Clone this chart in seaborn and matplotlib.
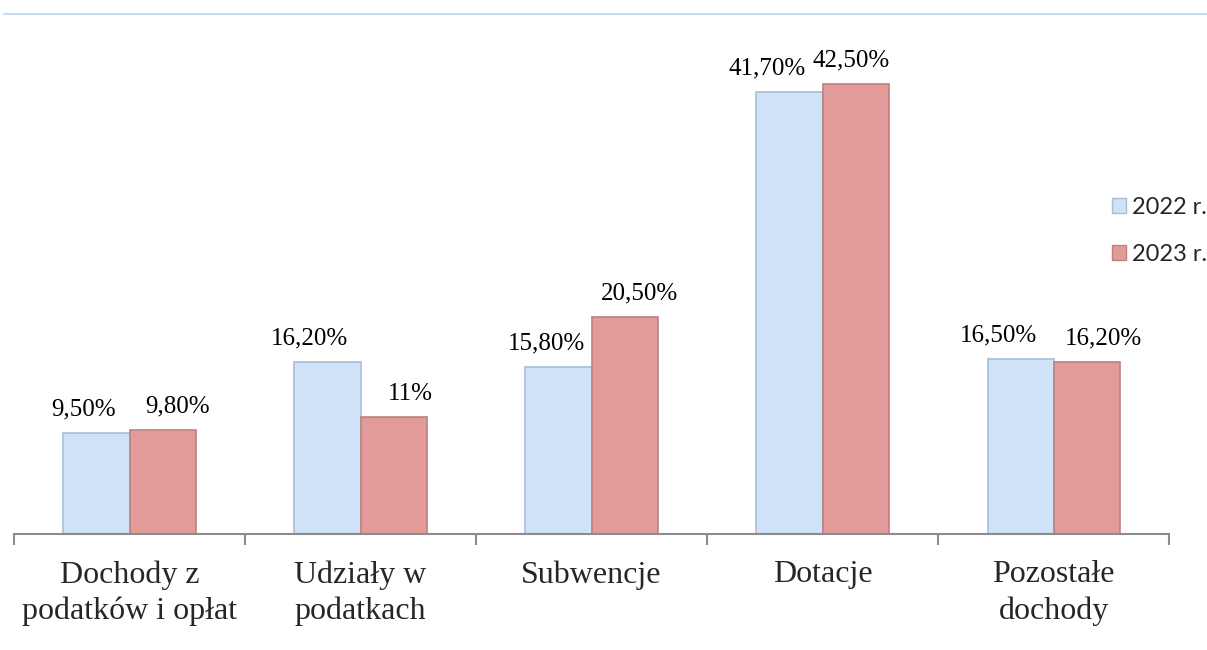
import pandas as pd
import matplotlib.pyplot as plt
from matplotlib.lines import Line2D
from matplotlib.patches import Patch
import seaborn as sns

# Data (share of revenue, %)
kategorie = ["Dochody z\npodatków i opłat", "Udziały w\npodatkach", "Subwencje",
             "Dotacje", "Pozostałe\ndochody"]
lata = ["2022 r.", "2023 r."]
udzial_2022 = [9.5, 16.2, 15.8, 41.7, 16.5]
udzial_2023 = [9.8, 11.0, 20.5, 42.5, 16.2]
etykiety_2022 = ["9,50%", "16,20%", "15,80%", "41,70%", "16,50%"]
etykiety_2023 = ["9,80%", "11%", "20,50%", "42,50%", "16,20%"]

# Horizontal nudges (points) of the value labels, as Excel placed them
nudge_2022 = [-9, -13, -9, -16, -16]
nudge_2023 = [11, 12, 11, -3, 12]

kolory = ["#cfe2f8", "#e39b9a"]
krawedzie = ["#a9bdd6", "#b98180"]

df = pd.DataFrame({
    "kategoria": kategorie * 2,
    "rok": [lata[0]] * 5 + [lata[1]] * 5,
    "udzial": udzial_2022 + udzial_2023,
})

sns.set_style("white")
plt.rcParams["font.family"] = ["Liberation Serif", "DejaVu Serif"]

fig = plt.figure(figsize=(12.07, 6.5), dpi=100)
ax = fig.add_axes([0.0116, 0.1785, 0.957, 0.7338])

sns.barplot(data=df, x="kategoria", y="udzial", hue="rok", order=kategorie,
            hue_order=lata, palette=kolory, width=0.572, saturation=1,
            dodge=True, legend=False, ax=ax)

# bar outlines and value labels
etykiety = [etykiety_2022, etykiety_2023]
nudges = [nudge_2022, nudge_2023]
for i, cont in enumerate(ax.containers):
    for j, bar in enumerate(cont):
        bar.set_edgecolor(krawedzie[i])
        bar.set_linewidth(1.2)
        ax.annotate(etykiety[i][j],
                    xy=(bar.get_x() + bar.get_width() / 2, bar.get_height()),
                    xytext=(nudges[i][j], 12.5), textcoords="offset points",
                    ha="center", va="baseline", fontsize=18, color="black")

ax.set_xlim(-0.5, 4.5)
ax.set_ylim(0, 45)
ax.set_xlabel("")
ax.set_ylabel("")
ax.set_yticks([])

# category labels centered, tick marks on category boundaries
ax.set_xticks(range(len(kategorie)))
ax.set_xticklabels(kategorie, fontsize=23, linespacing=1.3)
ax.set_xticks([k - 0.5 for k in range(len(kategorie) + 1)], minor=True)
ax.tick_params(axis="x", which="major", length=0, pad=19)
ax.tick_params(axis="x", which="minor", length=8, width=1.5, color="#8c8c8c",
               direction="out", bottom=True)

for side in ["top", "right", "left"]:
    ax.spines[side].set_visible(False)
ax.spines["bottom"].set_color("#8c8c8c")
ax.spines["bottom"].set_linewidth(1.5)

# decorative line at the top of the slide
fig.add_artist(Line2D([0.003, 1.0], [1 - 14 / 650, 1 - 14 / 650],
                      transform=fig.transFigure, color="#c6d9f1", lw=1.5))

# legend at the right edge
handles = [Patch(facecolor=kolory[k], edgecolor=krawedzie[k]) for k in range(2)]
fig.legend(handles, lata, loc="center left", bbox_to_anchor=(0.921, 0.645),
           frameon=False, prop={"family": "Lato", "size": 17},
           handlelength=0.6, handleheight=0.6, handletextpad=0.25,
           labelspacing=1.1, borderaxespad=0, borderpad=0)

fig.savefig("out.png", dpi=100)
